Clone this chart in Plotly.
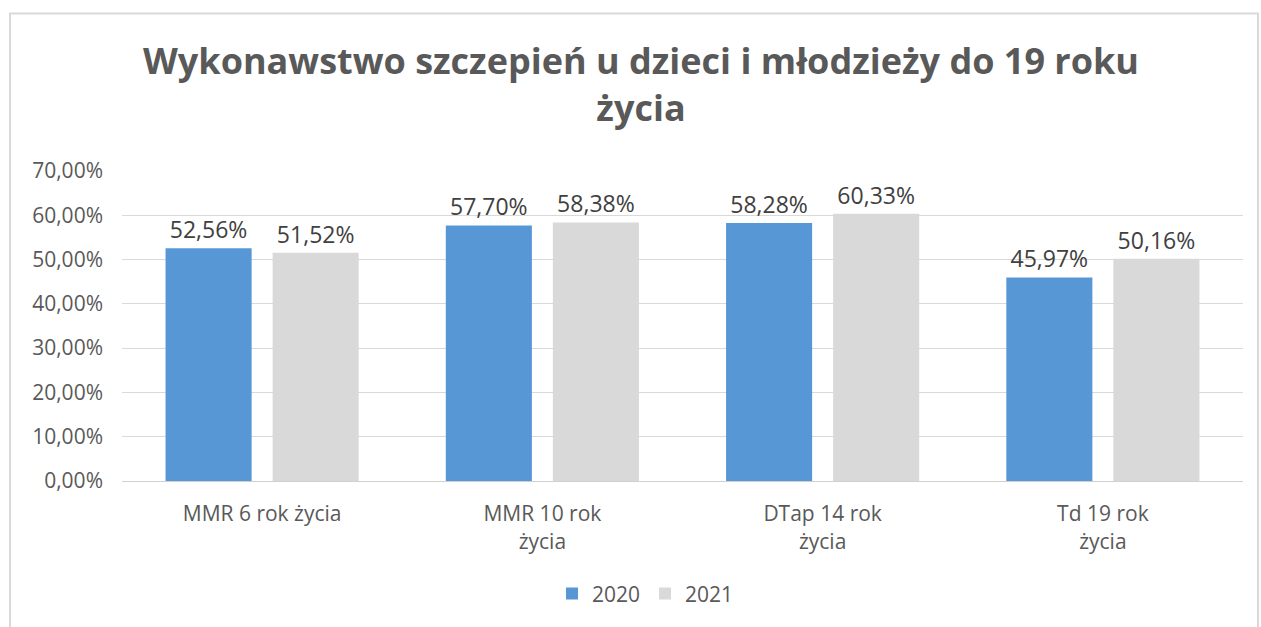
import plotly.graph_objects as go

categories = ["MMR 6 rok życia", "MMR 10 rok<br>życia", "DTap 14 rok<br>życia", "Td 19 rok<br>życia"]
series_names = ["2020", "2021"]
values_2020 = [0.5256, 0.5770, 0.5828, 0.4597]
values_2021 = [0.5152, 0.5838, 0.6033, 0.5016]
y_ticks = [0, 0.1, 0.2, 0.3, 0.4, 0.5, 0.6, 0.7]

W, H = 1261, 627
L, R, T, B = 122, 18, 171, 143
FONT = "Open Sans"

fig = go.Figure()
fig.add_trace(go.Bar(
    name=series_names[0], x=categories, y=values_2020,
    marker=dict(color="#5797d5", line=dict(width=0)),
    texttemplate="%{y:.2%}", textposition="outside",
    textfont=dict(size=23, color="#404040", family=FONT),
    cliponaxis=False,
))
fig.add_trace(go.Bar(
    name=series_names[1], x=categories, y=values_2021,
    marker=dict(color="#d9d9d9", line=dict(width=0)),
    texttemplate="%{y:.2%}", textposition="outside",
    textfont=dict(size=23, color="#404040", family=FONT),
    cliponaxis=False,
))

pw = W - L - R
ph = H - T - B
def px_x(x):
    return (x - L) / pw
def px_y(y):
    return (H - B - y) / ph

fig.add_shape(type="rect", xref="paper", yref="paper",
              x0=px_x(10), x1=px_x(1258), y0=px_y(640), y1=px_y(12),
              line=dict(color="#d9d9d9", width=2), fillcolor="rgba(0,0,0,0)", layer="below")

fig.update_layout(
    width=W, height=H,
    margin=dict(l=L, r=R, t=T, b=B),
    paper_bgcolor="white", plot_bgcolor="white",
    separators=", ",
    barmode="group", bargap=0.236, bargroupgap=0.196,
    title=dict(
        text="<b>Wykonawstwo szczepień u dzieci i młodzieży do 19 roku<br>życia</b>",
        x=641 / W, xref="container", xanchor="center", yref="container", y=0.882, yanchor="top",
        font=dict(size=36, color="#595959", family=FONT),
    ),
    font=dict(family=FONT, color="#595959"),
    yaxis=dict(range=[0, 0.7], tickvals=y_ticks, tickformat=".2%",
               showgrid=True, gridcolor="#d9d9d9", gridwidth=1,
               zeroline=False, showline=False, ticklabelstandoff=18,
               tickfont=dict(size=21, color="#595959"), ticks="", ticklen=0),
    xaxis=dict(showline=True, linecolor="#d0d0d0", linewidth=1, ticklabelstandoff=14,
               tickfont=dict(size=21, color="#595959"), ticks=""),
    legend=dict(orientation="h", x=0.467, xanchor="center", y=px_y(598), yanchor="middle",
                font=dict(size=21, color="#595959"), traceorder="normal"),
    showlegend=True,
)

fig.write_html("out.html", config={"displayModeBar": False},
               post_script="document.body.style.margin='0';")
